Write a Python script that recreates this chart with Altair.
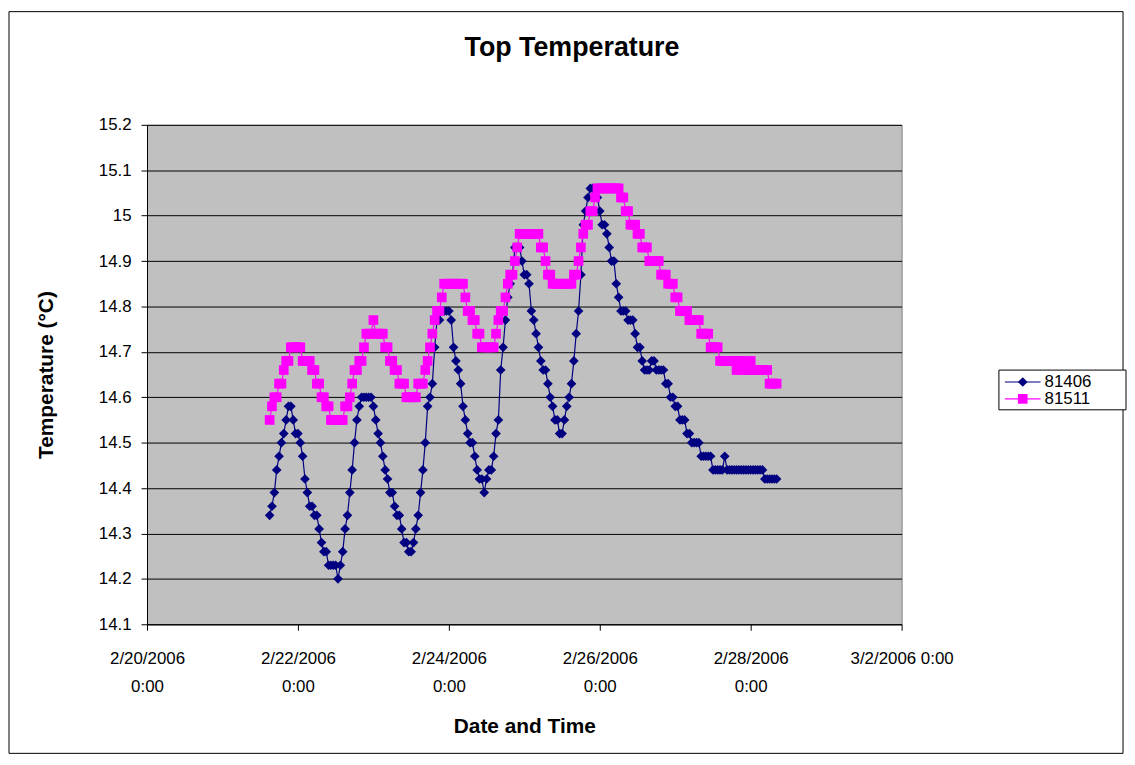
import altair as alt
import pandas as pd

# ---- data ----
series_names = ["81406", "81511"]
start_time = "2006-02-21 15:00"
step = "45min"

s81406 = [
    14.34, 14.36, 14.39, 14.44, 14.47, 14.50, 14.52, 14.55, 14.58, 14.58,
    14.55, 14.52, 14.52, 14.50, 14.47, 14.42, 14.39, 14.36, 14.36, 14.34,
    14.34, 14.31, 14.28, 14.26, 14.26, 14.23, 14.23, 14.23, 14.23, 14.20,
    14.23, 14.26, 14.31, 14.34, 14.39, 14.44, 14.50, 14.55, 14.58, 14.60,
    14.60, 14.60, 14.60, 14.60, 14.58, 14.55, 14.52, 14.50, 14.47, 14.44,
    14.42, 14.39, 14.39, 14.36, 14.34, 14.34, 14.31, 14.28, 14.28, 14.26,
    14.26, 14.28, 14.31, 14.34, 14.39, 14.44, 14.50, 14.58, 14.60, 14.63,
    14.71, 14.77, 14.77, 14.79, 14.79, 14.79, 14.79, 14.77, 14.71, 14.68,
    14.66, 14.63, 14.58, 14.55, 14.52, 14.50, 14.50, 14.47, 14.44, 14.42,
    14.42, 14.39, 14.42, 14.44, 14.44, 14.47, 14.52, 14.55, 14.66, 14.71,
    14.77, 14.82, 14.85, 14.87, 14.93, 14.93, 14.93, 14.90, 14.87, 14.87,
    14.85, 14.79, 14.77, 14.74, 14.71, 14.68, 14.66, 14.66, 14.63, 14.60,
    14.58, 14.55, 14.55, 14.52, 14.52, 14.55, 14.58, 14.60, 14.63, 14.68,
    14.74, 14.79, 14.87, 14.98, 15.01, 15.04, 15.06, 15.06, 15.06, 15.04,
    15.01, 14.98, 14.98, 14.96, 14.93, 14.90, 14.90, 14.85, 14.82, 14.79,
    14.79, 14.79, 14.77, 14.77, 14.77, 14.74, 14.71, 14.71, 14.68, 14.66,
    14.66, 14.66, 14.68, 14.68, 14.66, 14.66, 14.66, 14.66, 14.63, 14.63,
    14.60, 14.60, 14.58, 14.58, 14.55, 14.55, 14.55, 14.52, 14.52, 14.50,
    14.50, 14.50, 14.50, 14.47, 14.47, 14.47, 14.47, 14.47, 14.44, 14.44,
    14.44, 14.44, 14.44, 14.47, 14.44, 14.44, 14.44, 14.44, 14.44, 14.44,
    14.44, 14.44, 14.44, 14.44, 14.44, 14.44, 14.44, 14.44, 14.44, 14.44,
    14.42, 14.42, 14.42, 14.42, 14.42, 14.42,
]

s81511 = [
    14.55, 14.58, 14.60, 14.60, 14.63, 14.63, 14.66, 14.68, 14.68, 14.71,
    14.71, 14.71, 14.71, 14.71, 14.68, 14.68, 14.68, 14.68, 14.66, 14.66,
    14.63, 14.63, 14.60, 14.60, 14.58, 14.58, 14.55, 14.55, 14.55, 14.55,
    14.55, 14.55, 14.58, 14.58, 14.60, 14.63, 14.66, 14.66, 14.68, 14.68,
    14.71, 14.74, 14.74, 14.74, 14.77, 14.74, 14.74, 14.74, 14.74, 14.71,
    14.71, 14.68, 14.68, 14.66, 14.66, 14.63, 14.63, 14.63, 14.60, 14.60,
    14.60, 14.60, 14.60, 14.63, 14.63, 14.63, 14.66, 14.68, 14.71, 14.74,
    14.77, 14.79, 14.79, 14.82, 14.85, 14.85, 14.85, 14.85, 14.85, 14.85,
    14.85, 14.85, 14.85, 14.82, 14.79, 14.79, 14.77, 14.77, 14.74, 14.74,
    14.71, 14.71, 14.71, 14.71, 14.71, 14.71, 14.74, 14.77, 14.79, 14.79,
    14.82, 14.85, 14.87, 14.87, 14.90, 14.93, 14.96, 14.96, 14.96, 14.96,
    14.96, 14.96, 14.96, 14.96, 14.96, 14.93, 14.93, 14.90, 14.87, 14.87,
    14.85, 14.85, 14.85, 14.85, 14.85, 14.85, 14.85, 14.85, 14.85, 14.87,
    14.87, 14.90, 14.93, 14.96, 14.98, 14.98, 15.01, 15.01, 15.04, 15.06,
    15.06, 15.06, 15.06, 15.06, 15.06, 15.06, 15.06, 15.06, 15.06, 15.04,
    15.04, 15.01, 15.01, 14.98, 14.98, 14.98, 14.96, 14.96, 14.93, 14.93,
    14.93, 14.90, 14.90, 14.90, 14.90, 14.90, 14.87, 14.87, 14.87, 14.85,
    14.85, 14.85, 14.82, 14.82, 14.79, 14.79, 14.79, 14.79, 14.77, 14.77,
    14.77, 14.77, 14.77, 14.74, 14.74, 14.74, 14.74, 14.71, 14.71, 14.71,
    14.71, 14.68, 14.68, 14.68, 14.68, 14.68, 14.68, 14.68, 14.66, 14.68,
    14.66, 14.68, 14.66, 14.66, 14.68, 14.66, 14.66, 14.66, 14.66, 14.66,
    14.66, 14.66, 14.63, 14.63, 14.63, 14.63,
]

y_ticks = [14.1, 14.2, 14.3, 14.4, 14.5, 14.6, 14.7, 14.8, 14.9, 15.0, 15.1, 15.2]
x_tick_days = [(2, 20), (2, 22), (2, 24), (2, 26), (2, 28), (3, 2)]
title_text = "Top Temperature"

colors = ["#000080", "#FF00FF"]
shapes = ["diamond", "square"]
FONT = "Liberation Sans"

times = pd.date_range(start_time, periods=len(s81406), freq=step).strftime("%Y-%m-%dT%H:%M:%S")
df = pd.concat([
    pd.DataFrame({"time": times, "temp": s81406, "series": series_names[0]}),
    pd.DataFrame({"time": times, "temp": s81511, "series": series_names[1]}),
])

W, H = 760, 503

x_enc = alt.X(
    "time:T",
    scale=alt.Scale(domain=[alt.DateTime(year=2006, month=2, date=20),
                            alt.DateTime(year=2006, month=3, date=2)], nice=False),
    axis=alt.Axis(
        title="Date and Time",
        values=[alt.DateTime(year=2006, month=m, date=d) for m, d in x_tick_days],
        labelExpr="month(datum.value) == 2 ? timeFormat(datum.value, '%-m/%-d/%Y %-H:%M') : [timeFormat(datum.value, '%-m/%-d/%Y'), timeFormat(datum.value, '%-H:%M')]",
        labelLineHeight=28,
        labelPadding=21,
        grid=False,
        tickSize=6,
        tickColor="black",
        domainColor="black",
        labelFont=FONT, labelFontSize=17, labelColor="black",
        titleFont=FONT, titleFontSize=21, titleFontWeight="bold", titleColor="black",
        titlePadding=21,
        labelFlush=False,
        labelOverlap=False,
    ),
)
y_enc = alt.Y(
    "temp:Q",
    scale=alt.Scale(domain=[14.1, 15.2], nice=False, zero=False),
    axis=alt.Axis(
        title="Temperature (°C)",
        values=y_ticks,
        format="~g",
        grid=True, gridColor="black", gridWidth=1,
        tickSize=6, tickColor="black", domainColor="black",
        labelFont=FONT, labelFontSize=17, labelColor="black", labelPadding=10,
        titleFont=FONT, titleFontSize=21, titleFontWeight="bold", titleColor="black",
        titlePadding=42,
    ),
)
color_enc = alt.Color("series:N", scale=alt.Scale(domain=series_names, range=colors), legend=None)

lines = alt.Chart(df).mark_line(strokeWidth=1.2).encode(x=x_enc, y=y_enc, color=color_enc, detail="series:N")
pts = alt.Chart(df).mark_point(filled=True, opacity=1, size=95).encode(
    x=x_enc, y=y_enc, color=color_enc,
    shape=alt.Shape("series:N", scale=alt.Scale(domain=series_names, range=shapes), legend=None),
)

one = pd.DataFrame({"k": [0]})
# outer chart border
border = alt.Chart(one).mark_rect(fill="transparent", stroke="black", strokeWidth=1).encode(
    x=alt.value(-139), x2=alt.value(983), y=alt.value(-114), y2=alt.value(633)
)
title_mark = alt.Chart(one).mark_text(
    text=title_text, font=FONT, fontSize=27, fontWeight="bold", color="black",
    align="center", baseline="middle",
).encode(x=alt.value(428), y=alt.value(-77))

# legend (drawn as a box with line+marker samples)
LX, LY = 858, 247
leg_box = alt.Chart(one).mark_rect(fill="white", stroke="black", strokeWidth=1).encode(
    x=alt.value(LX), x2=alt.value(LX + 128), y=alt.value(LY), y2=alt.value(LY + 40)
)
leg_layers = [leg_box]
for k, name in enumerate(series_names):
    ry = LY + 12 + k * 17
    leg_layers.append(alt.Chart(one).mark_rule(color=colors[k], strokeWidth=1.2).encode(
        x=alt.value(LX + 6), x2=alt.value(LX + 42), y=alt.value(ry)))
    leg_layers.append(alt.Chart(one).mark_point(filled=True, opacity=1, size=95, shape=shapes[k], color=colors[k]).encode(
        x=alt.value(LX + 24), y=alt.value(ry)))
    leg_layers.append(alt.Chart(one).mark_text(text=name, align="left", baseline="middle", font=FONT, fontSize=17, color="black").encode(
        x=alt.value(LX + 46), y=alt.value(ry)))

chart = alt.layer(border, title_mark, lines, pts, *leg_layers).properties(
    width=W, height=H,
    padding=0,
    background="white",
).configure_view(fill="#C0C0C0", stroke="#808080", strokeWidth=1)

chart.save("out.html", embed_options={"renderer": "svg", "actions": False})
